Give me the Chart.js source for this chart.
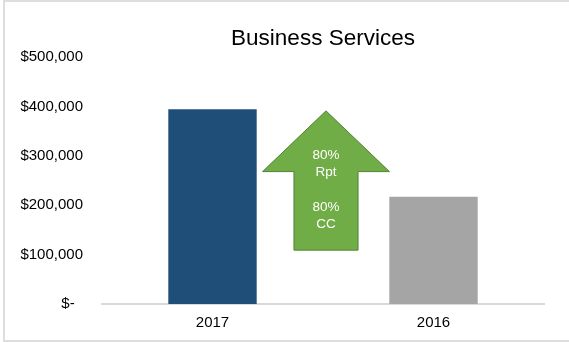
<!DOCTYPE html>
<html>
<head>
<meta charset="utf-8">
<script src="https://cdn.jsdelivr.net/npm/chart.js@4"></script>
<style>
  body { margin: 0; background: #ffffff; }
  .frame { position: absolute; left: 3px; top: 0; width: 600px; height: 338px; border: 2px solid #dedede; }
  .wrap { position: absolute; left: 0; top: 0; width: 569px; height: 342px; }
</style>
</head>
<body>
<div class="frame"></div>
<div class="wrap"><canvas id="chart" width="569" height="342"></canvas></div>
<script>
// Revenue by year
const years = ['2017', '2016'];
const revenue = [394000, 217000];
const barColors = ['#1f4e79', '#a5a5a5'];
const yTicks = [0, 100000, 200000, 300000, 400000, 500000];

// Growth arrow: vertical extent in dollars, text lines inside it
const arrowTop = 391000;
const arrowHeadBase = 268000;
const arrowBottom = 109000;
const arrowText = [['80%', 'Rpt'], ['80%', 'CC']];

const font = "'Liberation Sans', Arial, sans-serif";

function money(v) {
    if (v === 0) return '$-  ';
    return '$' + v.toLocaleString('en-US');
}

// Draws the green up-arrow between the two bars
const growthArrow = {
    id: 'growthArrow',
    afterDatasetsDraw(chart) {
        const { ctx, scales: { x, y } } = chart;
        const cx = (x.getPixelForValue(0) + x.getPixelForValue(1)) / 2 + 3;
        const step = x.getPixelForValue(1) - x.getPixelForValue(0);
        const headHalf = step * 0.287;
        const shaftHalf = step * 0.145;
        const tip = y.getPixelForValue(arrowTop);
        const base = y.getPixelForValue(arrowHeadBase);
        const bottom = y.getPixelForValue(arrowBottom);

        ctx.save();
        ctx.beginPath();
        ctx.moveTo(cx, tip);
        ctx.lineTo(cx + headHalf, base);
        ctx.lineTo(cx + shaftHalf, base);
        ctx.lineTo(cx + shaftHalf, bottom);
        ctx.lineTo(cx - shaftHalf, bottom);
        ctx.lineTo(cx - shaftHalf, base);
        ctx.lineTo(cx - headHalf, base);
        ctx.closePath();
        ctx.fillStyle = '#70ad47';
        ctx.fill();
        ctx.lineWidth = 1;
        ctx.strokeStyle = '#548235';
        ctx.stroke();

        ctx.fillStyle = '#ffffff';
        ctx.font = '13.5px ' + font;
        ctx.textAlign = 'center';
        ctx.textBaseline = 'middle';
        const lineH = 17;
        let ty = base - 16;
        arrowText.forEach(group => {
            group.forEach((line, li) => {
                ctx.fillText(line, cx, ty + li * lineH);
            });
            ty += 52;
        });
        ctx.restore();
    }
};

new Chart(document.getElementById('chart'), {
    type: 'bar',
    data: {
        labels: years,
        datasets: [{
            data: revenue,
            backgroundColor: barColors,
            categoryPercentage: 1,
            barPercentage: 0.4
        }]
    },
    options: {
        responsive: false,
        animation: false,
        layout: { padding: { left: 4, right: 25, top: 0, bottom: 0 } },
        plugins: {
            legend: { display: false },
            tooltip: { enabled: false },
            title: {
                display: true,
                fullSize: false,
                text: 'Business Services',
                color: '#000000',
                font: { family: font, size: 22.5, weight: 'normal' },
                padding: { top: 25, bottom: 5 }
            }
        },
        scales: {
            x: {
                grid: { display: false, drawTicks: false },
                border: { display: true, color: '#d9d9d9', width: 2 },
                ticks: { color: '#000000', padding: 10, font: { family: font, size: 15 } }
            },
            y: {
                min: 0,
                max: 500000,
                afterBuildTicks: axis => { axis.ticks = yTicks.map(v => ({ value: v })); },
                afterFit: axis => { axis.width = 98; },
                grid: { display: false, drawTicks: false },
                border: { display: false },
                ticks: {
                    color: '#000000',
                    padding: 19,
                    font: { family: font, size: 15 },
                    callback: v => money(v)
                }
            }
        }
    },
    plugins: [growthArrow]
});
</script>
</body>
</html>
